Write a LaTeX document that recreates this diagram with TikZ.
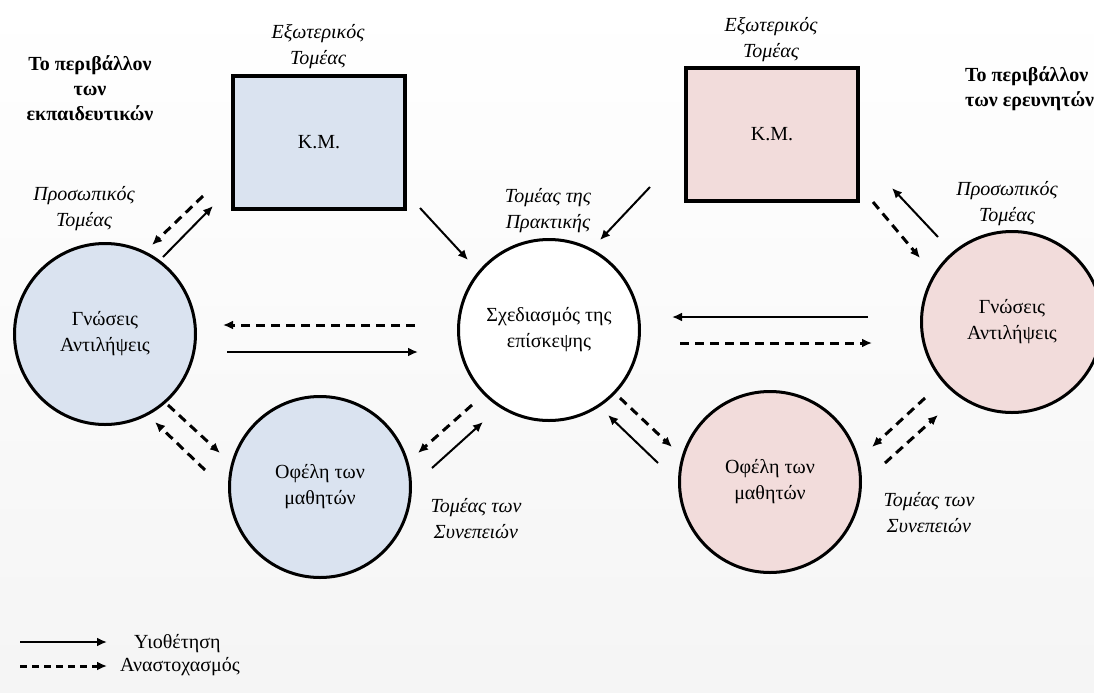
\documentclass[tikz,border=0pt]{standalone}
\usepackage{fontspec}
\setmainfont{Liberation Serif}
\usetikzlibrary{arrows.meta}
\definecolor{kmBlue}{RGB}{218,227,240}
\definecolor{kmPink}{RGB}{242,220,219}

\begin{document}
\begin{tikzpicture}[x=0.5pt, y=-0.5pt,
  every node/.style={font=\fontsize{10}{13}\selectfont, align=center},
  extbox/.style={draw, line width=2pt, minimum width=86pt, minimum height=66.5pt, inner sep=0pt, outer sep=0pt},
  area/.style={draw, circle, line width=1.5pt, minimum size=90.5pt, inner sep=0pt, outer sep=0pt},
  sector/.style={font=\fontsize{10}{13}\selectfont\itshape},
  envtext/.style={font=\fontsize{10}{12.5}\selectfont\bfseries},
  adopt/.style={-{Latex[length=5pt,width=4.5pt]}, line width=1pt},
  reflect/.style={-{Latex[length=5pt,width=4.5pt]}, line width=1.5pt, dash pattern=on 4.5pt off 3pt},
]
\fill[top color=white, bottom color=black!4] (0,0) rectangle (1094,692);
\useasboundingbox (0,0) rectangle (1094,692);

% boxes and circles
\node[extbox, fill=kmBlue] (extLeft) at (319,142) {Κ.Μ.};
\node[extbox, fill=kmPink] (extRight) at (772,134) {Κ.Μ.};
\node[area, fill=kmBlue] (knowLeft) at (105,334) {Γνώσεις\\Αντιλήψεις};
\node[area, fill=white] (plan) at (549,330) {Σχεδιασμός της\\επίσκεψης};
\node[area, fill=kmPink] (knowRight) at (1012,322) {Γνώσεις\\Αντιλήψεις};
\node[area, fill=kmBlue] (benLeft) at (320,487) {Οφέλη των\\μαθητών};
\node[area, fill=kmPink] (benRight) at (770,482) {Οφέλη των\\μαθητών};

% sector labels
\node[sector] (extLeftLbl) at (318,47) {Εξωτερικός\\Τομέας};
\node[sector] (extRightLbl) at (771,40) {Εξωτερικός\\Τομέας};
\node[sector] (persLeftLbl) at (84,209) {Προσωπικός\\Τομέας};
\node[sector] (persRightLbl) at (1007,204) {Προσωπικός\\Τομέας};
\node[sector] (practLbl) at (548,211) {Τομέας της\\Πρακτικής};
\node[sector] (consLeftLbl) at (476,519) {Τομέας των\\Συνεπειών};
\node[sector] (consRightLbl) at (929,513) {Τομέας των\\Συνεπειών};
\node[envtext] (envLeft) at (90,88) {Το περιβάλλον\\των\\εκπαιδευτικών};
\node[envtext, anchor=west, align=left] (envRight) at (958,89) {Το περιβάλλον\\των ερευνητών};

% left side
\draw[reflect] ([shift={(-116,54)}]extLeft.center) -- ([shift={(47,-89)}]knowLeft.center);
\draw[adopt] ([shift={(58,-77)}]knowLeft.center) -- ([shift={(-106,64)}]extLeft.center);
\draw[adopt] ([shift={(101,66)}]extLeft.center) -- ([shift={(-81,-70)}]plan.center);
\draw[reflect] ([shift={(-134,-5)}]plan.center) -- ([shift={(118,-9)}]knowLeft.center);
\draw[adopt, line width=1.3pt] ([shift={(122,18)}]knowLeft.center) -- ([shift={(-131,22)}]plan.center);
\draw[reflect] ([shift={(63,71)}]knowLeft.center) -- ([shift={(-100,-34)}]benLeft.center);
\draw[reflect] ([shift={(-115,-17)}]benLeft.center) -- ([shift={(50,88)}]knowLeft.center);
\draw[reflect] ([shift={(-77,75)}]plan.center) -- ([shift={(98,-34)}]benLeft.center);
\draw[adopt] ([shift={(112,-19)}]benLeft.center) -- ([shift={(-66,92)}]plan.center);

% right side
\draw[adopt] ([shift={(-122,53)}]extRight.center) -- ([shift={(51,-90)}]plan.center);
\draw[adopt] ([shift={(-74,-85)}]knowRight.center) -- ([shift={(120,54)}]extRight.center);
\draw[reflect] ([shift={(101,68)}]extRight.center) -- ([shift={(-92,-64)}]knowRight.center);
\draw[adopt, line width=1.3pt] ([shift={(-144,-5)}]knowRight.center) -- ([shift={(123,-13)}]plan.center);
\draw[reflect] ([shift={(131,13)}]plan.center) -- ([shift={(-140,21)}]knowRight.center);
\draw[reflect] ([shift={(71,68)}]plan.center) -- ([shift={(-98,-35)}]benRight.center);
\draw[adopt] ([shift={(-112,-19)}]benRight.center) -- ([shift={(59,85)}]plan.center);
\draw[reflect] ([shift={(-87,76)}]knowRight.center) -- ([shift={(102,-35)}]benRight.center);
\draw[reflect] ([shift={(115,-19)}]benRight.center) -- ([shift={(-74,93)}]knowRight.center);

% legend
\coordinate (adoptA) at (20,642);
\coordinate (adoptB) at (107,642);
\coordinate (reflA) at (20,666);
\coordinate (reflB) at (107,666);
\draw[adopt, line width=1.3pt] (adoptA) -- (adoptB);
\draw[reflect, dash pattern=on 3.5pt off 2.5pt] (reflA) -- (reflB);
\node[anchor=west] (adoptLbl) at (127,644) {Υιοθέτηση};
\node[anchor=west] (reflLbl) at (113,667) {Αναστοχασμός};
\end{tikzpicture}
\end{document}
